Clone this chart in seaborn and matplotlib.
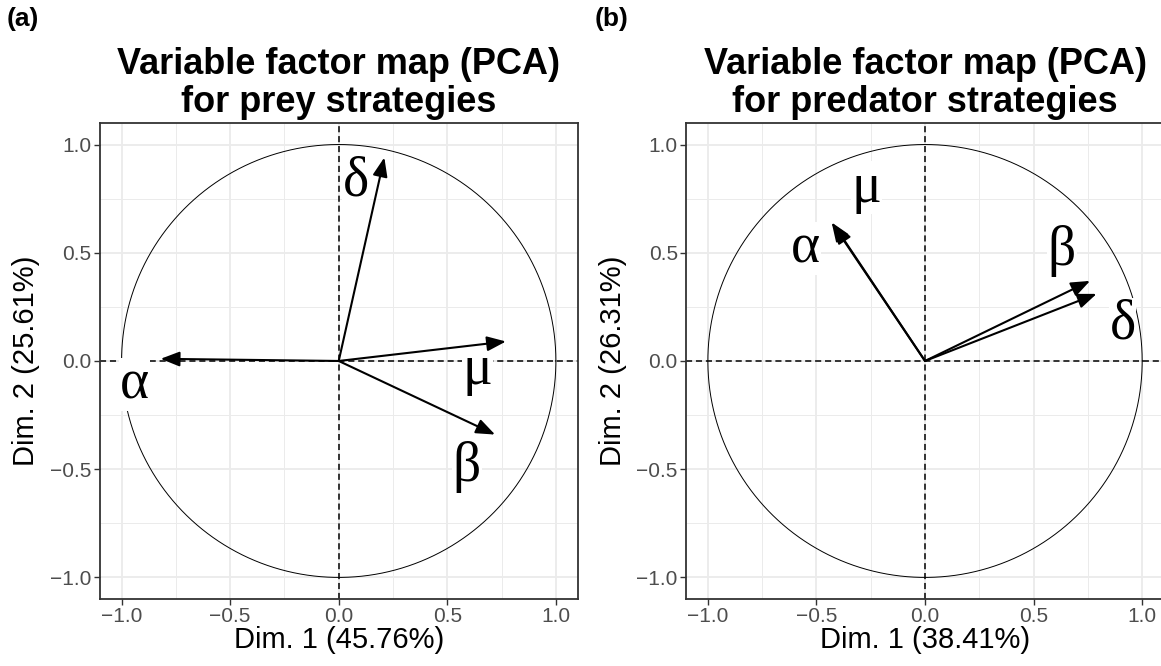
import numpy as np
import pandas as pd
import seaborn as sns
import matplotlib.pyplot as plt
from matplotlib.ticker import MultipleLocator

# variable coordinates
variables = ['α', 'β', 'δ', 'μ']

prey_dim1 = [-0.82, 0.72, 0.21, 0.77]
prey_dim2 = [0.01, -0.34, 0.94, 0.09]
prey_lab_x = [-0.94, 0.59, 0.08, 0.64]
prey_lab_y = [-0.11, -0.49, 0.83, -0.04]

pred_dim1 = [-0.43, 0.76, 0.79, -0.42]
pred_dim2 = [0.64, 0.37, 0.31, 0.63]
pred_lab_x = [-0.55, 0.63, 0.91, -0.27]
pred_lab_y = [0.52, 0.51, 0.17, 0.80]

titles = ['Variable factor map (PCA)\nfor prey strategies',
          'Variable factor map (PCA)\nfor predator strategies']
xlabels = ['Dim. 1 (45.76%)', 'Dim. 1 (38.41%)']
ylabels = ['Dim. 2 (25.61%)', 'Dim. 2 (26.31%)']
tags = ['(a)', '(b)']

sns.set_style('white')
plt.rcParams['font.family'] = ['Liberation Sans', 'DejaVu Sans']
plt.rcParams['text.color'] = 'black'
plt.rcParams['axes.labelcolor'] = 'black'

fig = plt.figure(figsize=(11.61, 6.66), dpi=100)
ax_a = fig.add_axes([0.086, 0.1005, 0.4115, 0.715])
ax_b = fig.add_axes([0.591, 0.1005, 0.4115, 0.715])

theta = np.linspace(0, 2 * np.pi, 400)
circle = pd.DataFrame({'x': np.cos(theta), 'y': np.sin(theta)})

panels = [
    (ax_a, prey_dim1, prey_dim2, prey_lab_x, prey_lab_y),
    (ax_b, pred_dim1, pred_dim2, pred_lab_x, pred_lab_y),
]

for i, (ax, dx, dy, lx, ly) in enumerate(panels):
    ax.set_xlim(-1.1, 1.1)
    ax.set_ylim(-1.1, 1.1)
    ax.xaxis.set_major_locator(MultipleLocator(0.5))
    ax.yaxis.set_major_locator(MultipleLocator(0.5))
    ax.xaxis.set_minor_locator(MultipleLocator(0.25))
    ax.yaxis.set_minor_locator(MultipleLocator(0.25))
    ax.grid(True, which='major', color='#EBEBEB', linewidth=1.3, zorder=0)
    ax.grid(True, which='minor', color='#EBEBEB', linewidth=0.7, zorder=0)
    ax.set_axisbelow(True)
    for s in ax.spines.values():
        s.set_color('#333333')
        s.set_linewidth(1.3)
    ax.tick_params(which='major', length=4, width=1, color='#333333',
                   labelsize=15, labelcolor='#4D4D4D', pad=2,
                   bottom=True, left=True)
    ax.tick_params(which='minor', length=0)

    sns.lineplot(data=circle, x='x', y='y', sort=False, estimator=None,
                 color='black', linewidth=0.7, ax=ax, zorder=2)
    ax.axhline(0, color='black', linewidth=1.1, linestyle=(0, (4, 2.5)), zorder=2)
    ax.axvline(0, color='black', linewidth=1.1, linestyle=(0, (4, 2.5)), zorder=2)

    for k in range(len(variables)):
        ax.annotate('', xy=(dx[k], dy[k]), xytext=(0, 0),
                    arrowprops=dict(arrowstyle='-|>,head_length=1.15,head_width=0.45',
                                    color='black', linewidth=1.5,
                                    shrinkA=0, shrinkB=0), zorder=4)
        ax.text(lx[k], ly[k], variables[k], family=['Liberation Serif', 'DejaVu Serif'],
                fontsize=40, ha='center', va='center', zorder=3,
                bbox=dict(facecolor='white', edgecolor='none', pad=0.5))

    ax.set_title(titles[i], fontsize=26, fontweight='bold', pad=8, linespacing=1.12)
    ax.set_xlabel(xlabels[i], fontsize=21, labelpad=0)
    ax.set_ylabel(ylabels[i], fontsize=21, labelpad=7)

fig.text(0.006, 0.972, tags[0], fontsize=19, fontweight='bold', va='center')
fig.text(0.512, 0.972, tags[1], fontsize=19, fontweight='bold', va='center')

fig.savefig('out.png', dpi=100)
